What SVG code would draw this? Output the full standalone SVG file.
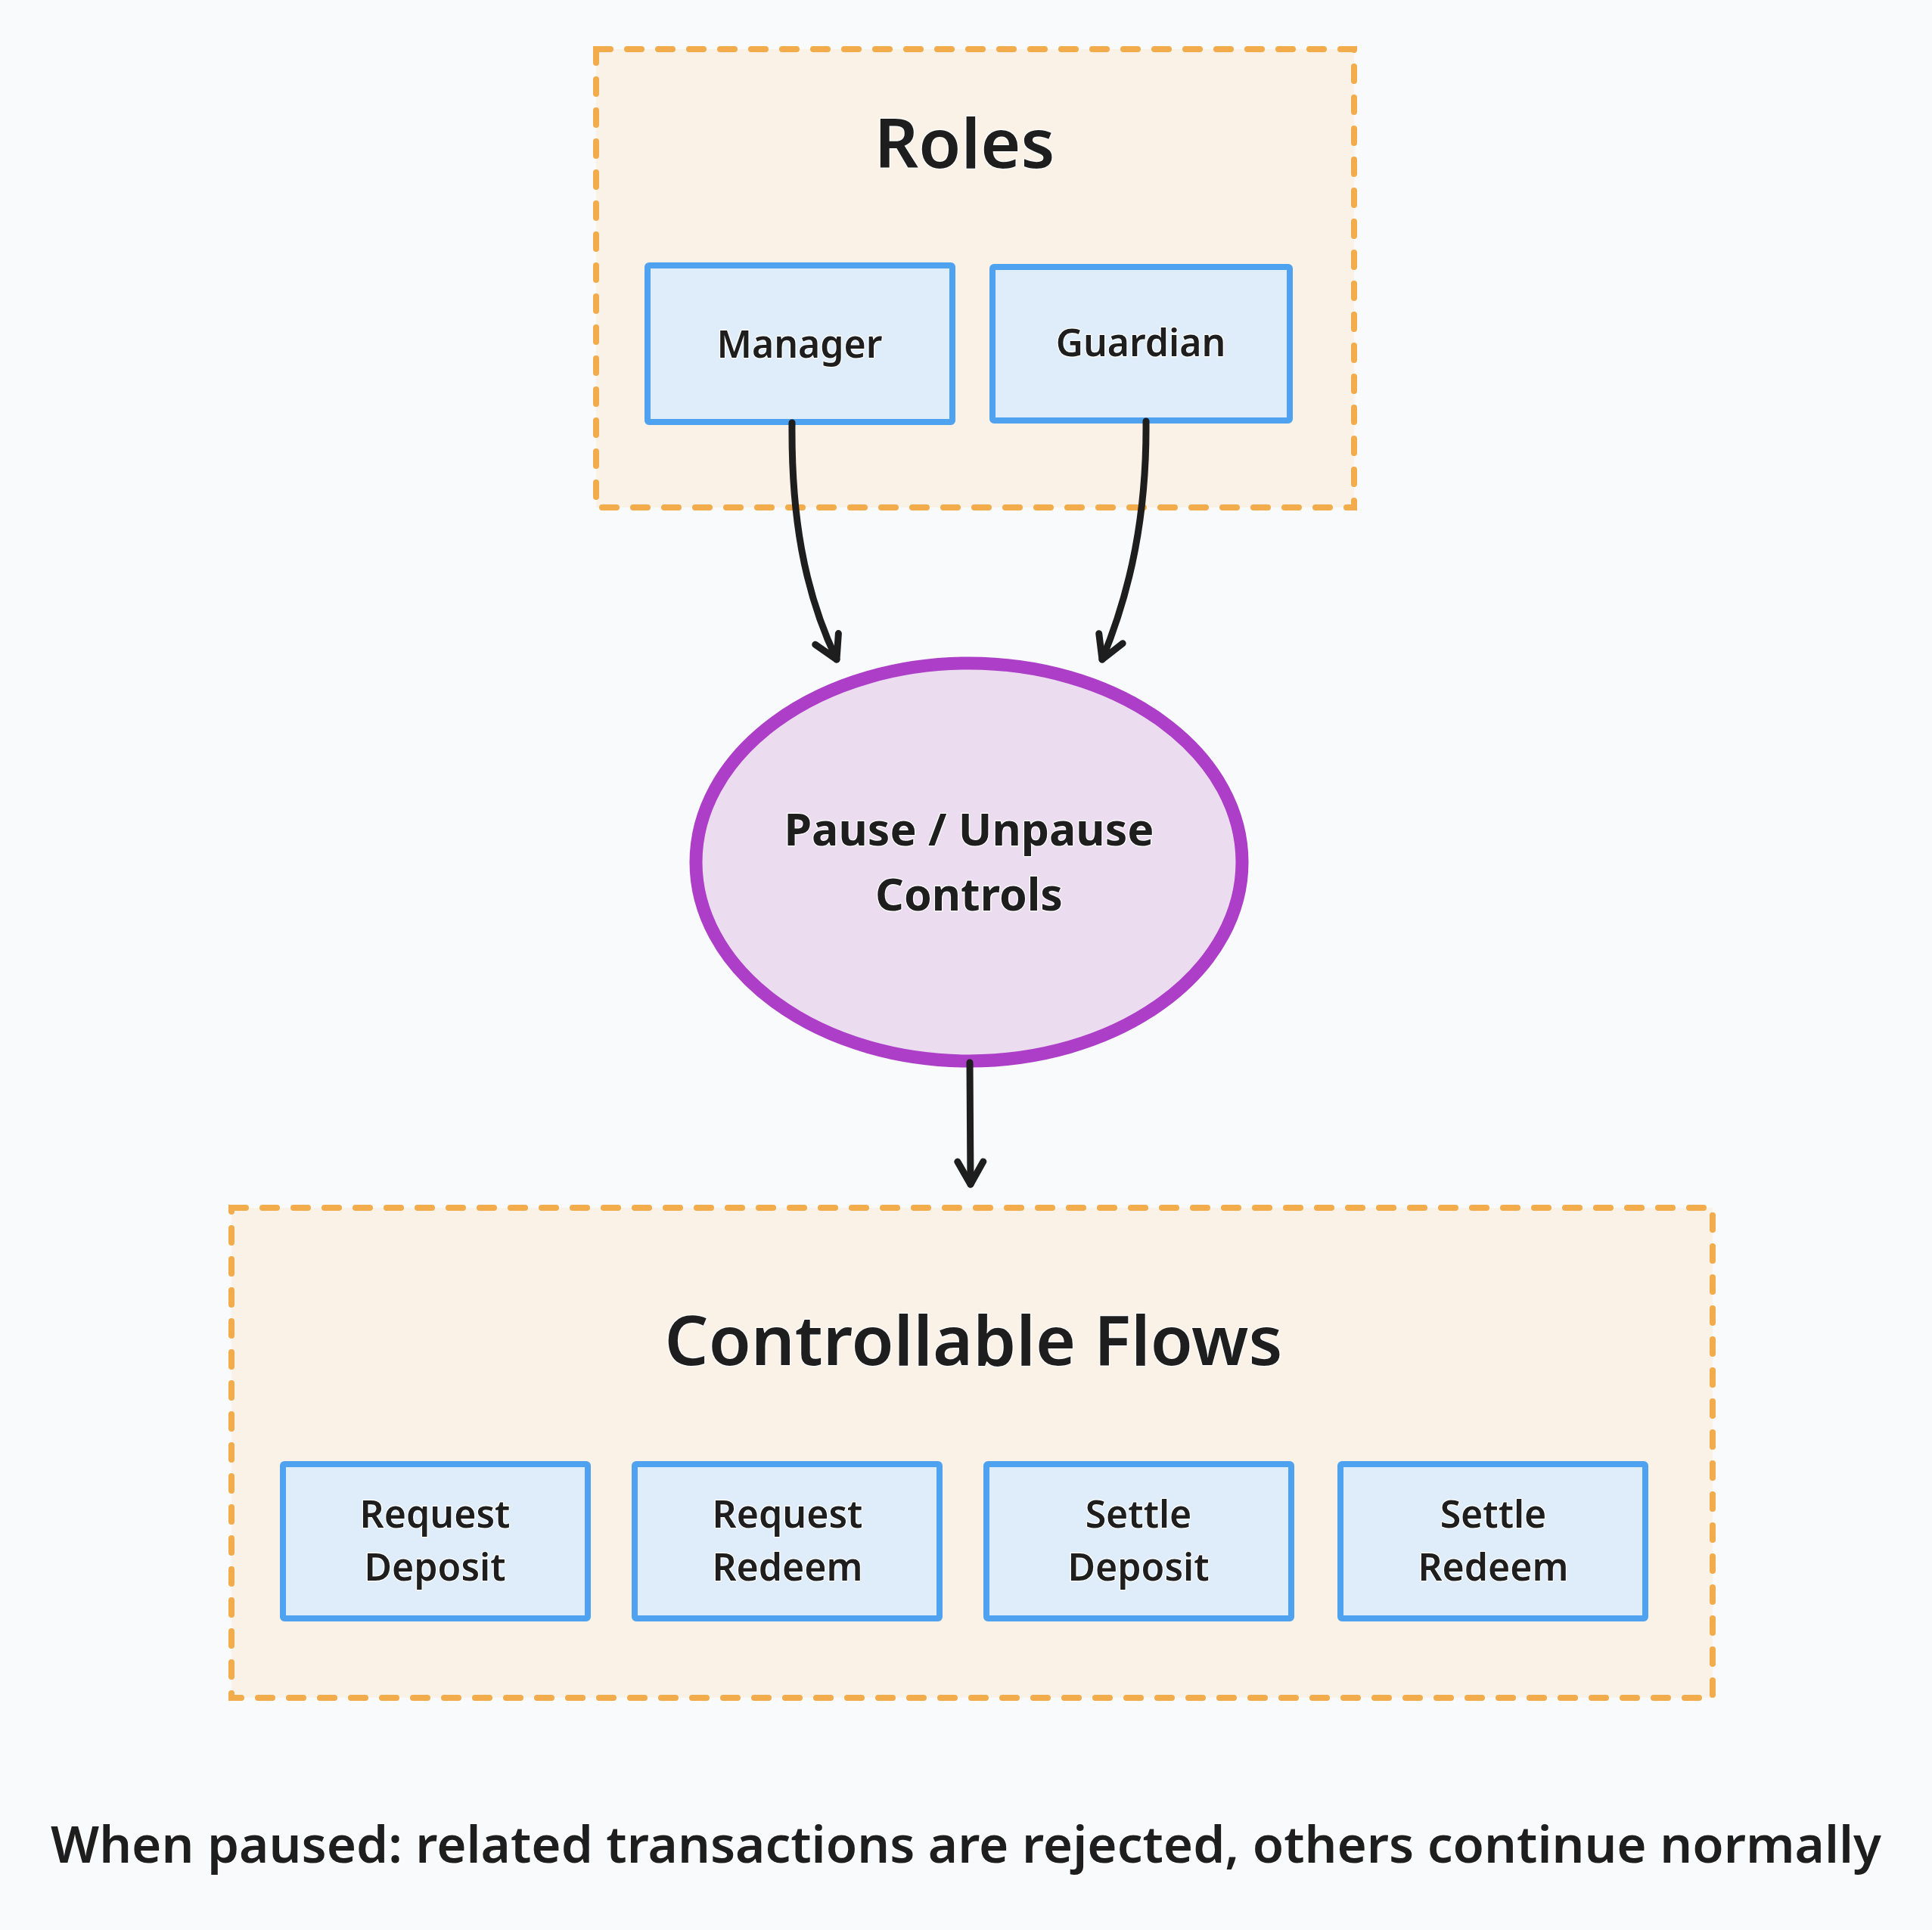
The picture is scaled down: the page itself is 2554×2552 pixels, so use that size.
<svg xmlns="http://www.w3.org/2000/svg" width="2554" height="2552" viewBox="0 0 2554 2552">
<defs>
<style>
.cont{fill:#faf2e7;stroke:#f3ac4b;stroke-width:8;stroke-dasharray:19 22;stroke-linecap:round}
.box{fill:#deedf9;stroke:#4ea2ef;stroke-width:8}
.t{font-family:"Noto Sans","Liberation Sans",sans-serif;fill:#1e1e1e;text-anchor:middle;stroke:#ffffff;stroke-width:2.5;paint-order:stroke;stroke-linejoin:round}
.title{font-size:91px;font-weight:600}
.lbl{font-size:50px;font-weight:600}
.el{font-size:59px;font-weight:700}
.foot{font-size:67px;font-weight:600}
.edge{fill:none;stroke:#1e1e1e;stroke-width:9;stroke-linecap:round}
</style>
<marker id="arr" viewBox="0 0 20 20" refX="18" refY="10" markerWidth="40" markerHeight="40" markerUnits="userSpaceOnUse" orient="auto" overflow="visible">
<path d="M3 1.5 L18 10 L3 18.5" fill="none" stroke="#1e1e1e" stroke-width="4.5" stroke-linecap="round" stroke-linejoin="round"/>
</marker>
</defs>
<rect width="2554" height="2552" fill="#f8fafc"/>

<g id="roles">
<rect class="cont" x="788" y="65" width="1002" height="606"/>
<text class="t title" x="1275" y="222">Roles</text>
</g>
<g id="manager">
<rect class="box" x="856" y="351" width="403" height="207" rx="2"/>
<text class="t lbl" x="1057" y="473">Manager</text>
</g>
<g id="guardian">
<rect class="box" x="1312" y="353" width="393" height="203" rx="2"/>
<text class="t lbl" x="1508" y="471">Guardian</text>
</g>

<g id="pause">
<ellipse cx="1281" cy="1140" rx="361" ry="263" fill="#ecdcf0" stroke="#ad3ec8" stroke-width="17"/>
<text class="t el" x="1281" y="1118">Pause / Unpause</text>
<text class="t el" x="1281" y="1204">Controls</text>
</g>

<g id="flows">
<rect class="cont" x="306" y="1597" width="1958" height="648"/>
<text class="t title" x="1287" y="1805">Controllable Flows</text>
</g>
<g id="reqdep">
<rect class="box" x="374" y="1936" width="403" height="204" rx="2"/>
<text class="t lbl" x="575" y="2020">Request</text>
<text class="t lbl" x="575" y="2090">Deposit</text>
</g>
<g id="reqred">
<rect class="box" x="839" y="1936" width="403" height="204" rx="2"/>
<text class="t lbl" x="1041" y="2020">Request</text>
<text class="t lbl" x="1041" y="2090">Redeem</text>
</g>
<g id="setdep">
<rect class="box" x="1304" y="1936" width="403" height="204" rx="2"/>
<text class="t lbl" x="1505" y="2020">Settle</text>
<text class="t lbl" x="1505" y="2090">Deposit</text>
</g>
<g id="setred">
<rect class="box" x="1772" y="1936" width="403" height="204" rx="2"/>
<text class="t lbl" x="1974" y="2020">Settle</text>
<text class="t lbl" x="1974" y="2090">Redeem</text>
</g>

<g id="connectors">
<path class="edge" d="M1047 559 C1046 680 1062 780 1106 872" marker-end="url(#arr)"/>
<path class="edge" d="M1515 557 C1516 680 1495 780 1457 872" marker-end="url(#arr)"/>
<path class="edge" d="M1282 1405 L1283 1566" marker-end="url(#arr)"/>
</g>

<text class="t foot" x="1277" y="2463" textLength="2420" lengthAdjust="spacingAndGlyphs">When paused: related transactions are rejected, others continue normally</text>
</svg>
